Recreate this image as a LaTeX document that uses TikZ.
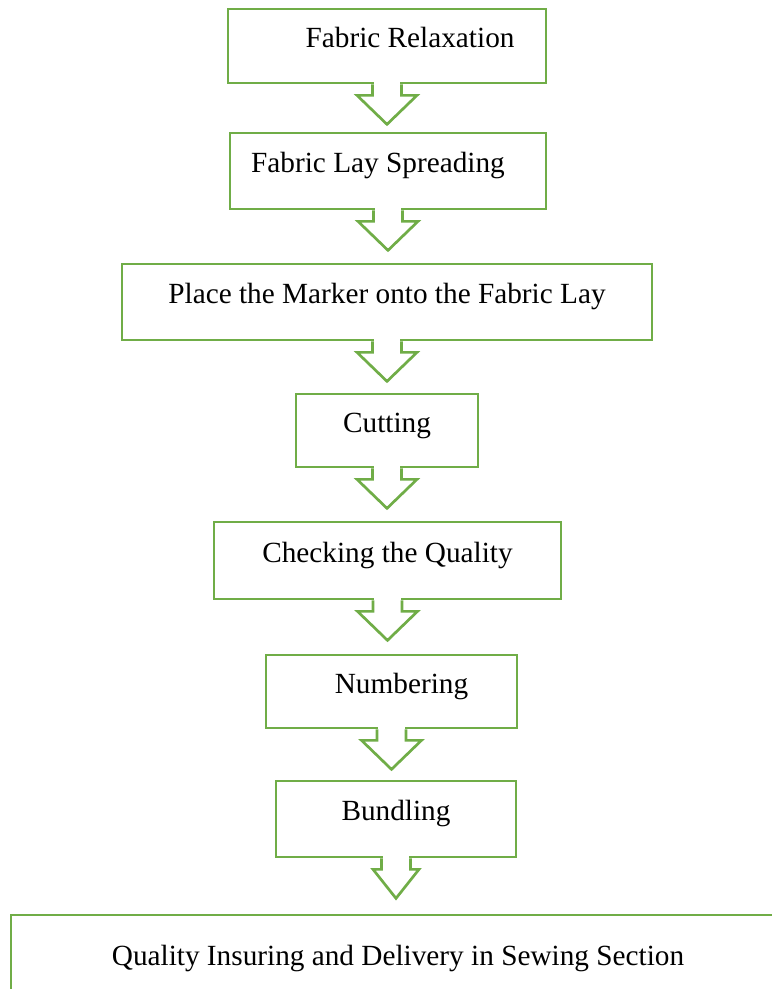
\documentclass[tikz,border=0pt]{standalone}
\usepackage{fontspec}
\setmainfont{Liberation Serif}
\usepackage{tikz}
\usetikzlibrary{calc}
\definecolor{flowgreen}{HTML}{70AD47}
\tikzset{
  flowline/.style={draw=flowgreen,line width=1.1pt},
  stepbox/.style 2 args={rectangle,flowline,fill=white,inner sep=0pt,
    minimum width=#1*0.41pt,minimum height=#2*0.41pt,
    text height=9pt,text depth=7.4pt},
  every node/.style={font=\fontsize{12}{14}\selectfont}
}
% block arrow hanging below a box (#1 = half width of the head)
\newcommand{\flowarrow}[2][30]{%
  \begin{scope}[shift={(#2.south)}]
    \fill[white] (-13.2,-2) rectangle (13.2,2);
    \filldraw[flowline,fill=white] (-14.5,0) -- (-14.5,11) -- (-#1,11)
      -- (0,40) -- (#1,11) -- (14.5,11) -- (14.5,0);
  \end{scope}}

\begin{document}
\begin{tikzpicture}[x=0.41pt,y=-0.41pt]
  \useasboundingbox (0,0) rectangle (772,989);
  % steps
  \node[stepbox={318}{74}] (relax) at (387,46) {\hspace*{18.9pt}Fabric Relaxation};
  \node[stepbox={316}{76}] (spread) at (388,171) {Fabric Lay Spreading\hspace*{8.2pt}};
  \node[stepbox={530}{76}] (marker) at (387,302) {Place the Marker onto the Fabric Lay};
  \node[stepbox={182}{73}] (cut) at (387,430.5) {Cutting};
  \node[stepbox={347}{77}] (check) at (387.5,560.5) {Checking the Quality};
  \node[stepbox={251}{73}] (number) at (391.5,691.5) {\hspace*{8.2pt}Numbering};
  \node[stepbox={240}{76}] (bundle) at (396,819) {Bundling};
  \node[stepbox={774}{98}] (deliver) at (398,964) {Quality Insuring and Delivery in Sewing Section};
  % arrows
  \flowarrow{relax}
  \flowarrow{spread}
  \flowarrow{marker}
  \flowarrow{cut}
  \flowarrow{check}
  \flowarrow{number}
  \flowarrow[23]{bundle}
\end{tikzpicture}
\end{document}
